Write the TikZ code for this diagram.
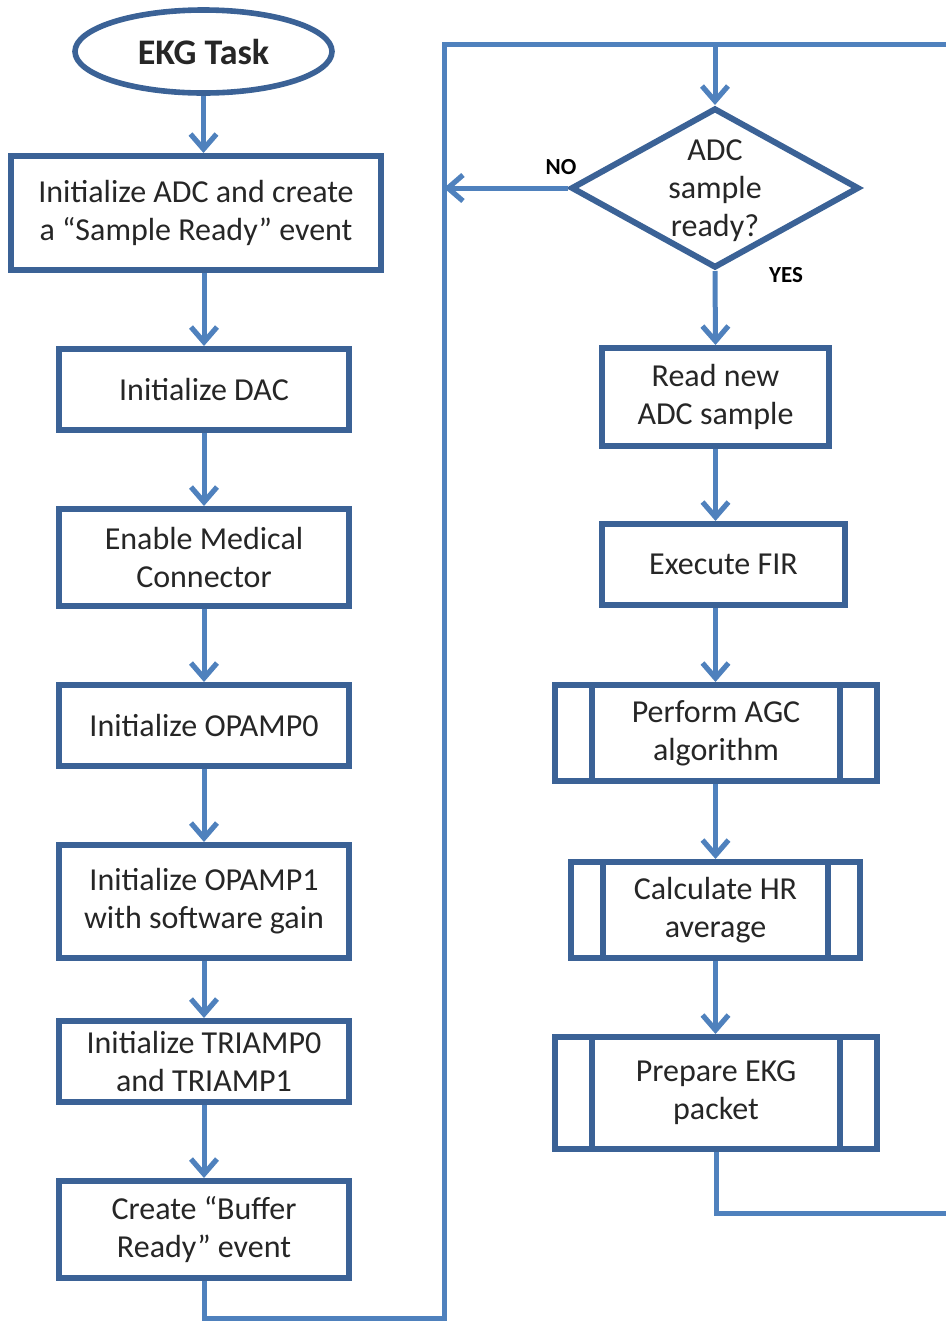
\documentclass[tikz,border=0pt]{standalone}
\usepackage{fontspec}
\setmainfont{Carlito}
\usetikzlibrary{arrows.meta,shapes.geometric,calc}
\definecolor{flowline}{HTML}{4F81BD}
\definecolor{boxedge}{HTML}{3B6296}
\definecolor{ink}{HTML}{262626}

\begin{document}
\begin{tikzpicture}[x=0.5pt,y=-0.5pt,
  box/.style={draw=boxedge, line width=3pt, fill=white, align=center,
    inner sep=0pt, text=ink, font=\fontsize{16}{19}\selectfont},
  terminal/.style={ellipse, draw=boxedge, line width=2.8pt, fill=white,
    inner sep=0pt, text=ink, font=\fontsize{18}{21}\selectfont\bfseries},
  decision/.style={diamond, draw=boxedge, line width=3pt, fill=white,
    inner sep=0pt},
  conn/.style={draw=flowline, line width=2.5pt},
  flow/.style={conn, -{Straight Barb[length=7.5pt,width=13pt,line width=2.6pt]}},
  answer/.style={text=black, font=\fontsize{11.5}{13}\selectfont\bfseries},
  label/.style={align=center, text=ink, font=\fontsize{16}{19}\selectfont}
]
\useasboundingbox (0,0) rectangle (946,1324);

% start of the task
\node[terminal, minimum width=128.5pt, minimum height=41.5pt] (ekg) at (203.5,51.5) {EKG Task};

% initialisation column
\node[box, minimum width=185pt, minimum height=57pt] (adc) at (196,213)
  {Initialize ADC and create\\a “Sample Ready” event};
\node[box, minimum width=145pt, minimum height=40.5pt] (dac) at (204,389.5)
  {Initialize DAC};
\node[box, minimum width=145pt, minimum height=48.5pt] (med) at (204,557.5)
  {Enable Medical\\Connector};
\node[box, minimum width=145pt, minimum height=40.5pt] (op0) at (204,725.5)
  {Initialize OPAMP0};
\node[box, minimum width=145pt, minimum height=56.5pt] (op1) at (204,901.5)
  {Initialize OPAMP1\\with software gain};
\node[box, minimum width=145pt, minimum height=40.5pt] (tri) at (204,1061.5)
  {Initialize TRIAMP0\\and TRIAMP1};
\node[box, minimum width=145pt, minimum height=48.5pt] (buf) at (204,1229.5)
  {Create “Buffer\\Ready” event};

% processing loop
\node[decision, minimum width=144pt, minimum height=80pt] (dec) at (715,188) {};
\node[label, yshift=-1.5pt] (decq) at (dec.center) {ADC\\sample\\ready?};
\node[box, minimum width=113.5pt, minimum height=49pt] (read) at (715.5,397)
  {Read new\\ADC sample};
\node[box, minimum width=121.5pt, minimum height=40.5pt] (fir) at (723.5,564.5)
  {Execute FIR};
\node[box, minimum width=161pt, minimum height=48pt] (agc) at (716,733)
  {Perform AGC\\algorithm};
\node[box, minimum width=144.5pt, minimum height=48pt] (hr) at (715.5,910)
  {Calculate HR\\average};
\node[box, minimum width=161pt, minimum height=56pt] (prep) at (716,1093)
  {Prepare EKG\\packet};

% predefined-process side bars
\foreach \n/\d in {agc/40,hr/35,prep/40}{
  \draw[boxedge, line width=3pt] ($(\n.north west)+(\d,0)$) -- ($(\n.south west)+(\d,0)$);
  \draw[boxedge, line width=3pt] ($(\n.north east)+(-\d,0)$) -- ($(\n.south east)+(-\d,0)$);
}

% loop routing points
\coordinate (retL) at (444,1318);
\coordinate (topL) at (444,44);
\coordinate (topR) at (964,44);
\coordinate (botR) at (964,1213);

% connectors of the initialisation column
\draw[flow] (ekg.south) -- (ekg.south |- adc.north);
\draw[flow] (dac.north |- adc.south) -- (dac.north);
\draw[flow] (dac) -- (med);
\draw[flow] (med) -- (op0);
\draw[flow] (op0) -- (op1);
\draw[flow] (op1) -- (tri);
\draw[flow] (tri) -- (buf);

% loop back lines
\draw[conn, line join=miter] (buf.south) |- (retL) -- (topL) -- (topR);
\draw[conn, line join=miter] (prep.south) |- (botR) -- (topR);

% connectors of the processing loop
\draw[flow] (dec.north |- topL) -- (dec.north);
\draw[flow] (dec.west) -- (dec.west -| topL);
\draw[flow] (dec.south) -- (read.north);
\draw[flow] (read.south) -- (read.south |- fir.north);
\draw[flow] (read.south |- fir.south) -- (read.south |- agc.north);
\draw[flow] (read.south |- agc.south) -- (read.south |- hr.north);
\draw[flow] (read.south |- hr.south) -- (read.south |- prep.north);

% branch labels
\node[answer] (no) at (561,167) {NO};
\node[answer] (yes) at (786,275) {YES};
\end{tikzpicture}
\end{document}
